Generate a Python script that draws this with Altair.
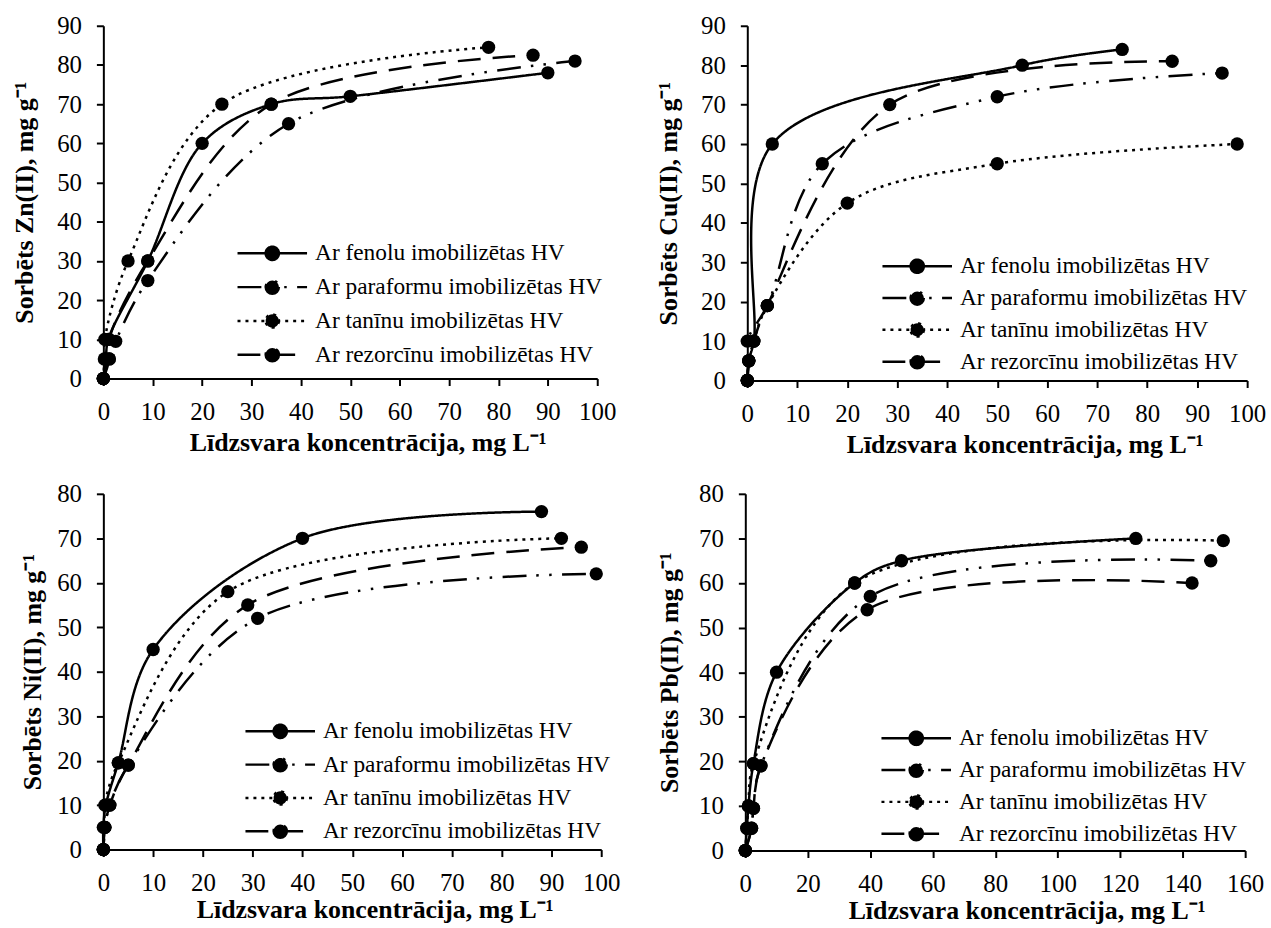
import altair as alt
import pandas as pd

SERIES = ["Ar fenolu imobilizētas HV", "Ar paraformu imobilizētas HV",
          "Ar tanīnu imobilizētas HV", "Ar rezorcīnu imobilizētas HV"]
DASHES = [[1, 0], [24, 10, 2.5, 10.5, 2.5, 10.5], [3, 5], [23, 12]]
XTITLE = "Līdzsvara koncentrācija, mg L⁻¹"

# ---- Zn(II) ----
zn_fenolu_x = [0, 0.5, 1, 9, 20, 34, 50, 90]
zn_fenolu_y = [0, 5, 10, 30, 60, 70, 72, 78]
zn_paraformu_x = [0, 1.2, 2.5, 9, 37.5, 95.5]
zn_paraformu_y = [0, 5, 9.5, 25, 65, 81]
zn_taninu_x = [0, 0.2, 0.3, 5, 24, 78]
zn_taninu_y = [0, 5, 10, 30, 70, 84.5]
zn_rezorcinu_x = [0, 1.2, 1.2, 9, 34, 87]
zn_rezorcinu_y = [0, 5, 10, 30, 70, 82.5]

# ---- Cu(II) ----
cu_fenolu_x = [0, 0.3, 1.3, 5, 55, 75]
cu_fenolu_y = [0, 5, 10, 60, 80, 84]
cu_paraformu_x = [0, 0.3, 0, 4, 15, 50, 95]
cu_paraformu_y = [0, 5, 10, 19, 55, 72, 78]
cu_taninu_x = [0, 0.3, 1.3, 4, 20, 50, 98]
cu_taninu_y = [0, 5, 10, 19, 45, 55, 60]
cu_rezorcinu_x = [0, 0.3, 1.3, 4, 28.5, 85]
cu_rezorcinu_y = [0, 5, 10, 19, 70, 81]

# ---- Ni(II) ----
ni_fenolu_x = [0, 0, 0.5, 3, 10, 40, 88]
ni_fenolu_y = [0, 5, 10, 19.5, 45, 70, 76]
ni_paraformu_x = [0, 0.3, 1.3, 5, 31, 99]
ni_paraformu_y = [0, 5, 10, 19, 52, 62]
ni_taninu_x = [0, 0.3, 0.3, 3, 25, 92]
ni_taninu_y = [0, 5, 10, 19.5, 58, 70]
ni_rezorcinu_x = [0, 0.3, 1.3, 5, 29, 96]
ni_rezorcinu_y = [0, 5, 10, 19, 55, 68]

# ---- Pb(II) ----
pb_fenolu_x = [0, 0.5, 1, 2.6, 10, 35, 50, 125]
pb_fenolu_y = [0, 5, 10, 19.5, 40, 60, 65, 70]
pb_paraformu_x = [0, 2, 2.6, 5, 40, 149]
pb_paraformu_y = [0, 5, 9.5, 19, 57, 65]
pb_taninu_x = [0, 0.5, 1, 2.6, 35, 153]
pb_taninu_y = [0, 5, 10, 19.5, 60, 69.5]
pb_rezorcinu_x = [0, 2, 2.6, 5, 39, 143]
pb_rezorcinu_y = [0, 5, 9.5, 19, 54, 60]

LEG_PATH = "M-3,0H3M0.57,0A0.57,0.57,0,1,1,-0.57,0A0.57,0.57,0,1,1,0.57,0Z"
FONT = "Liberation Serif"

AXIS_STYLE = dict(
    grid=False, domainColor="black", domainWidth=2, tickColor="black", tickWidth=2,
    tickSize=7, labelFont=FONT, labelFontSize=25, labelColor="black",
    titleFont=FONT, titleFontSize=26, titleFontWeight="bold", titleColor="black",
    labelFlush=False, labelOverlap=False,
)


def frame(pairs):
    rows = []
    for s, (xs, ys) in zip(SERIES, pairs):
        for i, (xv, yv) in enumerate(zip(xs, ys)):
            rows.append({"x": xv, "y": yv, "s": s, "i": i})
    return pd.DataFrame(rows)


def panel(df, ytitle, xmax, xstep, ymax, w, h, xtitle_x, xtitle_pad, ytitle_pad,
          leg_x, leg_y, row_pad):
    x = alt.X("x:Q", scale=alt.Scale(domain=[0, xmax], nice=False),
              axis=alt.Axis(values=list(range(0, xmax + 1, xstep)), title=XTITLE,
                            titleX=xtitle_x, titlePadding=xtitle_pad, labelPadding=14,
                            **AXIS_STYLE))
    y = alt.Y("y:Q", scale=alt.Scale(domain=[0, ymax], nice=False),
              axis=alt.Axis(values=list(range(0, ymax + 1, 10)), title=ytitle,
                            titlePadding=ytitle_pad, labelPadding=15, **AXIS_STYLE))
    lines = alt.Chart(df).mark_line(
        interpolate="catmull-rom", color="black", strokeWidth=2.5, strokeCap="butt"
    ).encode(
        x=x, y=y, order="i:Q",
        strokeDash=alt.StrokeDash(
            "s:N", scale=alt.Scale(domain=SERIES, range=DASHES),
            legend=alt.Legend(
                title=None, orient="none", legendX=leg_x, legendY=leg_y,
                symbolType=LEG_PATH, symbolSize=544, symbolStrokeWidth=2.5,
                symbolStrokeColor="black", symbolFillColor="black",
                labelFont=FONT, labelFontSize=23.5, labelColor="black",
                labelOffset=30, rowPadding=row_pad, labelLimit=400,
            ),
        ),
    )
    points = alt.Chart(df).mark_circle(size=180, color="black", opacity=1).encode(x=x, y=y)
    return alt.layer(lines, points).properties(width=w, height=h)


zn = frame([(zn_fenolu_x, zn_fenolu_y), (zn_paraformu_x, zn_paraformu_y),
            (zn_taninu_x, zn_taninu_y), (zn_rezorcinu_x, zn_rezorcinu_y)])
cu = frame([(cu_fenolu_x, cu_fenolu_y), (cu_paraformu_x, cu_paraformu_y),
            (cu_taninu_x, cu_taninu_y), (cu_rezorcinu_x, cu_rezorcinu_y)])
ni = frame([(ni_fenolu_x, ni_fenolu_y), (ni_paraformu_x, ni_paraformu_y),
            (ni_taninu_x, ni_taninu_y), (ni_rezorcinu_x, ni_rezorcinu_y)])
pb = frame([(pb_fenolu_x, pb_fenolu_y), (pb_paraformu_x, pb_paraformu_y),
            (pb_taninu_x, pb_taninu_y), (pb_rezorcinu_x, pb_rezorcinu_y)])

p1 = panel(zn, "Sorbēts Zn(II), mg g⁻¹", 100, 10, 90, 497, 355, 266, 5, 19, 157, 216, 9)
p2 = panel(cu, "Sorbēts Cu(II), mg g⁻¹", 100, 10, 90, 503, 357, 279, 5, 19, 158, 229, 7)
p3 = panel(ni, "Sorbēts Ni(II), mg g⁻¹", 100, 10, 80, 501, 358, 273, 1, 11, 165, 226, 8.5)
p4 = panel(pb, "Sorbēts Pb(II), mg g⁻¹", 160, 20, 80, 503, 359, 283, 1, 16, 159, 233, 7)

row1 = alt.hconcat(p1, p2, spacing=40).resolve_scale(strokeDash="independent").resolve_legend(strokeDash="independent")
row2 = alt.hconcat(p3, p4, spacing=37).resolve_scale(strokeDash="independent").resolve_legend(strokeDash="independent")

chart = alt.vconcat(row1, row2, spacing=25).resolve_scale(
    strokeDash="independent").resolve_legend(strokeDash="independent").properties(
    padding={"left": 12, "top": 11, "right": 5, "bottom": 5}
).configure(font=FONT).configure_view(stroke=None)

chart.save("out.html", embed_options={"renderer": "svg", "actions": False})
